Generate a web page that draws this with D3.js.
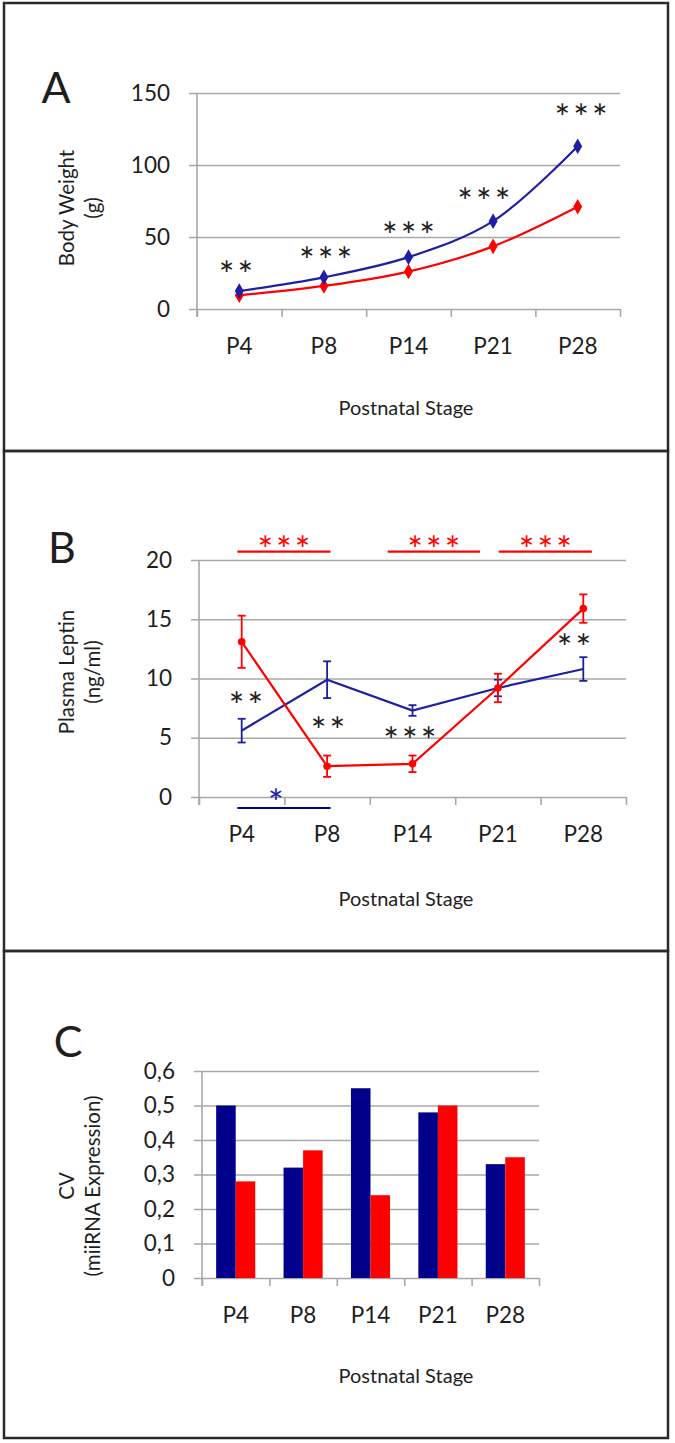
<!DOCTYPE html>
<html>
<head>
<meta charset="utf-8">
<script src="https://cdn.jsdelivr.net/npm/d3@7"></script>
<style>
  body { margin: 0; background: #fff; }
  text { font-family: Lato, "Open Sans", sans-serif; fill: #1e1e1e; }
</style>
</head>
<body>
<div id="chart"></div>
<script>
// ---- data ----
var stages = ["P4", "P8", "P14", "P21", "P28"];

// A: body weight (g)
var weightBlue = [12.5, 22, 36, 61, 113];
var weightRed = [9.5, 16, 26, 43.5, 71];
var weightTicks = [0, 50, 100, 150];
var weightStars = ["**", "***", "***", "***", "***"];
var weightStarPos = [-0.04, 1.02, 2.0, 2.89, 4.04];   // category index
var weightStarVal = [29, 39, 56, 80, 138];            // g

// B: plasma leptin (ng/ml)
var leptinBlue = [5.6, 9.9, 7.3, 9.2, 10.8];
var leptinBlueErr = [1.0, 1.55, 0.45, 0.7, 1.0];
var leptinRed = [13.1, 2.6, 2.8, 9.2, 15.9];
var leptinRedErr = [2.2, 0.9, 0.7, 1.2, 1.2];
var leptinTicks = [0, 5, 10, 15, 20];
var leptinStars = ["**", "**", "***", "**"];
var leptinStarPos = [0.05, 1.01, 1.97, 3.89];
var leptinStarVal = [8.35, 6.25, 5.4, 13.25];
var redBrackets = [[-0.05, 1.04], [1.71, 2.79], [3.01, 4.1]];
var redBracketVal = 20.7;
var blueBrackets = [[-0.05, 1.04]];
var blueBracketVal = -0.93;

// C: CV of miRNA expression
var cvBlue = [0.50, 0.32, 0.55, 0.48, 0.33];
var cvRed = [0.28, 0.37, 0.24, 0.50, 0.35];
var cvTicks = [0, 0.1, 0.2, 0.3, 0.4, 0.5, 0.6];

var BLUE_LINE = "#1f1fa3", BLUE_BAR = "#00008b", RED = "#ff0000", GRID = "#a8a8a8";

var svg = d3.select("#chart").append("svg")
    .attr("width", 675)
    .attr("height", 1443);

// panel frames
[[3, 448], [451, 500], [951, 487]].forEach(function(p){
    svg.append("rect")
        .attr("x", 4).attr("y", p[0])
        .attr("width", 664).attr("height", p[1])
        .attr("fill", "none")
        .attr("stroke", "#2a2a2a")
        .attr("stroke-width", 2.5);
});

// common axes: gridlines + y labels, x ticks at band edges, category labels
function drawAxes(x, xi, y, ticks, fmt) {
    var left = x.range()[0], right = x.range()[1], y0 = y(0);
    var g = svg.append("g");

    g.append("g")
        .attr("transform", "translate(" + (left - 8) + ",0)")
        .call(d3.axisLeft(y).tickValues(ticks).tickSize(-(right - left + 8)).tickPadding(19).tickFormat(fmt))
        .call(function(a){ a.select(".domain").remove(); })
        .call(function(a){ a.selectAll(".tick line").attr("stroke", GRID).attr("stroke-width", 1.6); })
        .call(function(a){ a.selectAll(".tick text").attr("font-size", 22.5).attr("font-family", null); });

    // vertical axis line
    g.append("line")
        .attr("x1", left).attr("x2", left)
        .attr("y1", y(ticks[ticks.length - 1])).attr("y2", y0 + 8)
        .attr("stroke", GRID).attr("stroke-width", 1.6);

    // ticks at category boundaries
    g.append("g")
        .attr("transform", "translate(0," + y0 + ")")
        .call(d3.axisBottom(xi).tickValues(d3.range(-0.5, 5, 1)).tickSize(8).tickFormat(""))
        .call(function(a){ a.select(".domain").remove(); })
        .call(function(a){ a.selectAll(".tick line").attr("stroke", GRID).attr("stroke-width", 1.6); });

    // category labels
    g.append("g")
        .attr("transform", "translate(0," + (y0 + 29) + ")")
        .call(d3.axisBottom(x).tickSize(0).tickPadding(0))
        .call(function(a){ a.select(".domain").remove(); })
        .call(function(a){ a.selectAll(".tick text").attr("font-size", 22.5).attr("font-family", null); });
}

function titles(letter, lx, ly, yTitle, yTitle2, ty, xTitleY, xCenter) {
    svg.append("text")
        .attr("x", lx).attr("y", ly)
        .attr("text-anchor", "middle").attr("dominant-baseline", "central")
        .attr("font-size", 43)
        .text(letter);
    svg.append("text")
        .attr("transform", "translate(66," + ty + ") rotate(-90)")
        .attr("text-anchor", "middle").attr("dominant-baseline", "central")
        .attr("font-size", 20.5)
        .text(yTitle);
    svg.append("text")
        .attr("transform", "translate(92," + ty + ") rotate(-90)")
        .attr("text-anchor", "middle").attr("dominant-baseline", "central")
        .attr("font-size", 20.5)
        .text(yTitle2);
    svg.append("text")
        .attr("x", xCenter).attr("y", xTitleY)
        .attr("text-anchor", "middle").attr("dominant-baseline", "central")
        .attr("font-size", 20)
        .text("Postnatal Stage");
}

function stars(xi, y, pos, vals, labels, color) {
    svg.append("g").selectAll("text")
        .data(labels)
        .enter().append("text")
        .attr("x", function(d, i){ return xi(pos[i]) + 1.5; })
        .attr("y", function(d, i){ return y(vals[i]) + 21; })
        .attr("text-anchor", "middle")
        .attr("font-size", 37)
        .attr("letter-spacing", 3)
        .style("fill", color)
        .text(function(d){ return d; });
}

// ---------- Panel A ----------
var xA = d3.scaleBand().domain(stages).range([197, 620]);
var xiA = d3.scaleLinear().domain([-0.5, 4.5]).range([197, 620]);
var yA = d3.scaleLinear().domain([0, 150]).range([309, 93]);
drawAxes(xA, xiA, yA, weightTicks, d3.format("d"));
titles("A", 56, 86, "Body Weight", "(g)", 208, 407, 406);

var lineA = d3.line()
    .x(function(d, i){ return xA(stages[i]) + xA.bandwidth() / 2; })
    .y(function(d){ return yA(d); })
    .curve(d3.curveCatmullRom.alpha(0.5));

[[weightRed, RED], [weightBlue, BLUE_LINE]].forEach(function(s){
    svg.append("path")
        .attr("d", lineA(s[0]))
        .attr("fill", "none")
        .attr("stroke", s[1])
        .attr("stroke-width", 2.2);
    svg.append("g").selectAll("path")
        .data(s[0])
        .enter().append("path")
        .attr("transform", function(d, i){
            return "translate(" + (xA(stages[i]) + xA.bandwidth() / 2) + "," + yA(d) + ")";
        })
        .attr("d", d3.symbol(d3.symbolDiamond, 70))
        .attr("fill", s[1]);
});
stars(xiA, yA, weightStarPos, weightStarVal, weightStars, "#1e1e1e");

// ---------- Panel B ----------
var xB = d3.scaleBand().domain(stages).range([199, 626]);
var xiB = d3.scaleLinear().domain([-0.5, 4.5]).range([199, 626]);
var yB = d3.scaleLinear().domain([0, 20]).range([797, 560]);
drawAxes(xB, xiB, yB, leptinTicks, d3.format("d"));
titles("B", 62, 546, "Plasma Leptin", "(ng/ml)", 672, 898, 406);

var lineB = d3.line()
    .x(function(d, i){ return xB(stages[i]) + xB.bandwidth() / 2; })
    .y(function(d){ return yB(d); });

[[leptinBlue, leptinBlueErr, BLUE_LINE, false], [leptinRed, leptinRedErr, RED, true]].forEach(function(s){
    var col = s[2];
    svg.append("path")
        .attr("d", lineB(s[0]))
        .attr("fill", "none")
        .attr("stroke", col)
        .attr("stroke-width", 2.2);
    var eb = svg.append("g").selectAll("g")
        .data(s[0])
        .enter().append("g")
        .attr("transform", function(d, i){ return "translate(" + (xB(stages[i]) + xB.bandwidth() / 2) + ",0)"; });
    eb.append("line")
        .attr("y1", function(d, i){ return yB(d + s[1][i]); })
        .attr("y2", function(d, i){ return yB(d - s[1][i]); })
        .attr("stroke", col).attr("stroke-width", 1.8);
    eb.append("line")
        .attr("x1", -4).attr("x2", 4)
        .attr("y1", function(d, i){ return yB(d + s[1][i]); })
        .attr("y2", function(d, i){ return yB(d + s[1][i]); })
        .attr("stroke", col).attr("stroke-width", 1.8);
    eb.append("line")
        .attr("x1", -4).attr("x2", 4)
        .attr("y1", function(d, i){ return yB(d - s[1][i]); })
        .attr("y2", function(d, i){ return yB(d - s[1][i]); })
        .attr("stroke", col).attr("stroke-width", 1.8);
    if (s[3]) {
        eb.append("circle")
            .attr("cy", function(d){ return yB(d); })
            .attr("r", 3.8)
            .attr("fill", col);
    }
});

// significance brackets
function brackets(list, val, col) {
    svg.append("g").selectAll("line")
        .data(list)
        .enter().append("line")
        .attr("x1", function(d){ return xiB(d[0]); })
        .attr("x2", function(d){ return xiB(d[1]); })
        .attr("y1", yB(val)).attr("y2", yB(val))
        .attr("stroke", col).attr("stroke-width", 2.2);
}
brackets(redBrackets, redBracketVal, RED);
brackets(blueBrackets, blueBracketVal, BLUE_BAR);
stars(xiB, yB, redBrackets.map(function(d){ return (d[0] + d[1]) / 2; }),
      redBrackets.map(function(){ return 21.5; }), redBrackets.map(function(){ return "***"; }), RED);
stars(xiB, yB, [0.4], [0.17], ["*"], "#1e1eb0");
stars(xiB, yB, leptinStarPos, leptinStarVal, leptinStars, "#1e1e1e");

// ---------- Panel C ----------
var xC = d3.scaleBand().domain(stages).range([202, 539]).paddingInner(0.42).paddingOuter(0.21);
var xiC = d3.scaleLinear().domain([-0.5, 4.5]).range([202, 539]);
var yC = d3.scaleLinear().domain([0, 0.6]).range([1278, 1071]);
var xCats = d3.scaleBand().domain(stages).range([202, 539]);
drawAxes(xCats, xiC, yC, cvTicks, function(d){ return d === 0 ? "0" : d3.format(".1f")(d).replace(".", ","); });
titles("C", 68, 1040, "CV", "(miiRNA Expression)", 1186, 1375, 406);

var xSeries = d3.scaleBand().domain(["blue", "red"]).range([0, xC.bandwidth()]);
[["blue", cvBlue, BLUE_BAR], ["red", cvRed, RED]].forEach(function(s){
    svg.append("g").selectAll("rect")
        .data(s[1])
        .enter().append("rect")
        .attr("x", function(d, i){ return xC(stages[i]) + xSeries(s[0]); })
        .attr("y", function(d){ return yC(d); })
        .attr("width", xSeries.bandwidth())
        .attr("height", function(d){ return yC(0) - yC(d); })
        .attr("fill", s[2]);
});
</script>
</body>
</html>
